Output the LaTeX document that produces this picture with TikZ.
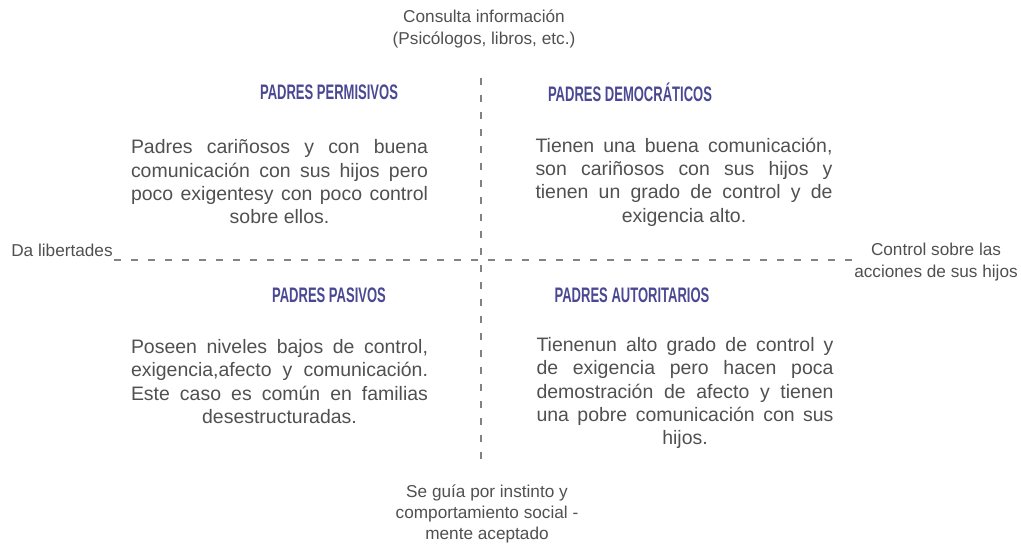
\documentclass[tikz,border=0pt]{standalone}
\usepackage{fontspec}
\setmainfont{Liberation Sans}
\newfontfamily\titlefont[FakeStretch=0.62]{Liberation Sans}

\definecolor{titleblue}{RGB}{74,72,146}
\definecolor{textgray}{RGB}{80,80,80}
\definecolor{axisgray}{RGB}{130,130,130}

% last line of a justified block, centred
\newcommand{\lastline}[1]{\hspace*{\fill}#1\hspace*{\fill}}

\tikzset{every picture/.style={line width=0.75pt}}
\tikzset{
  quadtitle/.style={inner sep=0.75pt, text=titleblue, font=\titlefont\bfseries\fontsize{15.75}{18}\selectfont},
  quadtext/.style={inner sep=0.75pt, text=textgray, text width=222.75pt, align=justify,
    font=\fontsize{14.6}{17.5}\selectfont},
  axislabel/.style={inner sep=0.75pt, text=textgray, align=center, font=\fontsize{12.9}{16}\selectfont},
  axisline/.style={draw=axisgray, line width=1.5pt, dash pattern=on 5.5pt off 7.25pt}
}

\begin{document}
\begin{tikzpicture}[x=0.75pt,y=0.75pt,yscale=-1,xscale=1]
%set diagram left start at 0, and has height of 543
\useasboundingbox (0,0) rectangle (1021,543);

%Axis ends
\coordinate (axtop) at (481,78);
\coordinate (axbottom) at (481,462);
\coordinate (axleft) at (114,260);
\coordinate (axright) at (858,260);
%Dashed axes
\draw [axisline] (axtop) -- (axbottom);
\draw [axisline] (axleft) -- (axright);

% Axis labels
\node [axislabel] (infolbl) at (484,29) {Consulta información\\(Psicólogos, libros, etc.)};
\node [axislabel] (instlbl) at (487,514) {Se guía por instinto y\\comportamiento social -\\mente aceptado};
\node [axislabel] (liblbl) at (62,250) {Da libertades};
\node [axislabel] (ctrllbl) at (936,262) {Control sobre las\\acciones de sus hijos};

% Quadrant titles
\node [quadtitle] (permtitle) at (329,92) {PADRES PERMISIVOS};
\node [quadtitle] (demotitle) at (630,92) {PADRES DEMOCRÁTICOS};
\node [quadtitle] (pasvtitle) at (329,295) {PADRES PASIVOS};
\node [quadtitle] (autotitle) at (632,295) {PADRES AUTORITARIOS};

% Quadrant texts
\node [quadtext] (permtext) at (279.5,182) {Padres cariñosos y con buena\linebreak comunicación con sus hijos pero\linebreak poco exigentesy con poco control\linebreak \lastline{sobre ellos.}};
\node [quadtext] (demotext) at (684,182) {Tienen una buena comunicación,\linebreak son cariñosos con sus hijos y\linebreak tienen un grado de control y de\linebreak \lastline{exigencia alto.}};
\node [quadtext] (pasvtext) at (279.5,381.5) {Poseen niveles bajos de control,\linebreak exigencia,afecto y comunicación.\linebreak Este caso es común en familias\linebreak \lastline{desestructuradas.}};
\node [quadtext] (autotext) at (685,393) {Tienenun alto grado de control y\linebreak de exigencia pero hacen poca\linebreak demostración de afecto y tienen\linebreak una pobre comunicación con sus\linebreak \lastline{hijos.}};
\end{tikzpicture}
\end{document}
